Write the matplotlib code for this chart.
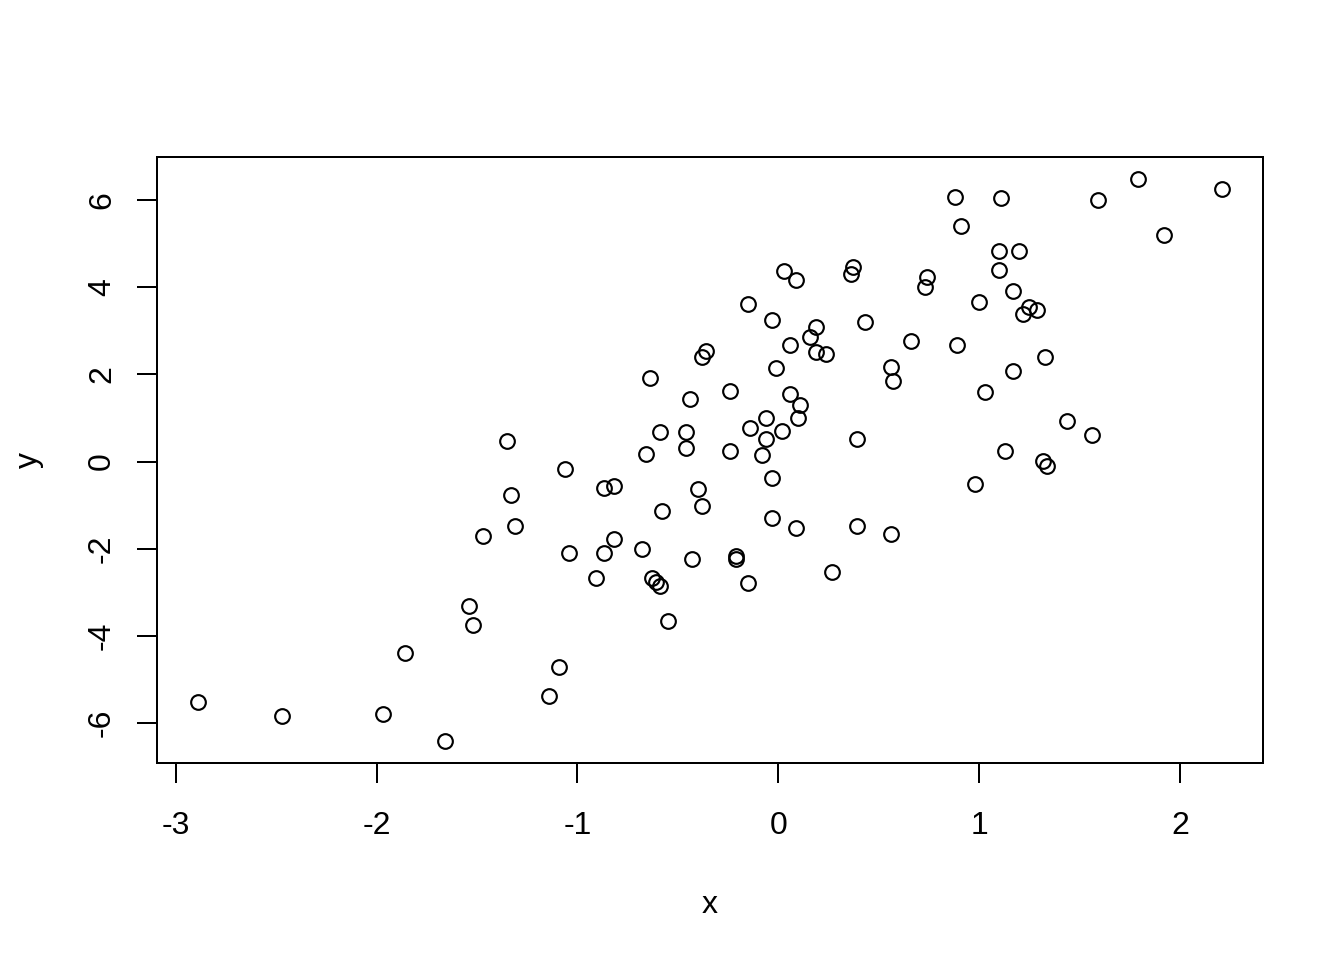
import matplotlib
matplotlib.use("Agg")
import matplotlib.pyplot as plt
import numpy as np

plt.rcParams['font.family'] = ['Liberation Sans', 'DejaVu Sans']

# values
x = [-2.89, -2.47, -1.97, -1.86, -1.66, -1.54, -1.52, -1.47, -1.35, -1.33,
     -1.31, -1.14, -1.09, -1.06, -1.04, -0.91, -0.87, -0.87, -0.82, -0.82,
     -0.68, -0.66, -0.64, -0.63, -0.61, -0.59, -0.59, -0.58, -0.55, -0.46,
     -0.46, -0.44, -0.43, -0.40, -0.38, -0.38, -0.36, -0.24, -0.24, -0.21,
     -0.21, -0.15, -0.15, -0.14, -0.08, -0.06, -0.06, -0.03, -0.03, -0.03,
     -0.01, 0.02, 0.03, 0.06, 0.06, 0.09, 0.09, 0.10, 0.11, 0.16,
     0.19, 0.19, 0.24, 0.27, 0.36, 0.37, 0.39, 0.39, 0.43, 0.56,
     0.56, 0.57, 0.66, 0.73, 0.74, 0.88, 0.89, 0.91, 0.98, 1.00,
     1.03, 1.10, 1.10, 1.11, 1.13, 1.17, 1.17, 1.20, 1.22, 1.25,
     1.29, 1.32, 1.33, 1.34, 1.44, 1.56, 1.59, 1.79, 1.92, 2.21]
y = [-5.52, -5.84, -5.79, -4.41, -6.41, -3.31, -3.75, -1.72, 0.46, -0.78,
     -1.49, -5.38, -4.71, -0.18, -2.09, -2.67, -0.60, -2.11, -0.57, -1.77,
     -2.00, 0.18, 1.93, -2.67, -2.76, -2.87, 0.67, -1.13, -3.66, 0.32,
     0.67, 1.43, -2.23, -0.62, 2.39, -1.03, 2.55, 0.25, 1.63, -2.16,
     -2.23, 3.63, -2.78, 0.76, 0.16, 1.01, 0.51, 3.24, -0.37, -1.29,
     2.14, 0.69, 4.37, 1.54, 2.67, -1.52, 4.18, 0.99, 1.29, 2.85,
     3.08, 2.51, 2.46, -2.53, 4.30, 4.46, 0.51, -1.49, 3.20, 2.18,
     -1.66, 1.84, 2.76, 4.02, 4.25, 6.07, 2.67, 5.40, -0.51, 3.66,
     1.59, 4.83, 4.39, 6.05, 0.25, 3.91, 2.09, 4.83, 3.38, 3.56,
     3.49, 0.02, 2.41, -0.11, 0.94, 0.60, 6.00, 6.48, 5.20, 6.25]
xticks = [-3, -2, -1, 0, 1, 2]
yticks = [-6, -4, -2, 0, 2, 4, 6]

fig = plt.figure(figsize=(7, 5), dpi=192)
ax = fig.add_axes([157/1344, 1 - 763/960, (1263 - 157)/1344, (763 - 157)/960])

ax.plot(x, y, 'o', mfc='none', mec='black', ms=5.5, mew=0.8)

# R style 4% padding around data range
def pad(v):
    lo, hi = min(v), max(v)
    d = (hi - lo) * 0.04
    return lo - d, hi + d

ax.set_xlim(*pad(x))
ax.set_ylim(*pad(y))
ax.set_xticks(xticks)
ax.set_yticks(yticks)
ax.set_xticklabels([str(t) for t in xticks])
ax.set_yticklabels([str(t) for t in yticks], rotation=90, va='center')
ax.tick_params(direction='out', length=7.5, width=0.75, labelsize=12, pad=10.5)
ax.tick_params(axis='y', pad=7.5)
for s in ax.spines.values():
    s.set_linewidth(0.75)

ax.set_xlabel('x', fontsize=12, labelpad=18.5)
ax.set_ylabel('y', fontsize=12, labelpad=16)

fig.savefig('out.png', dpi=192, facecolor='white')
